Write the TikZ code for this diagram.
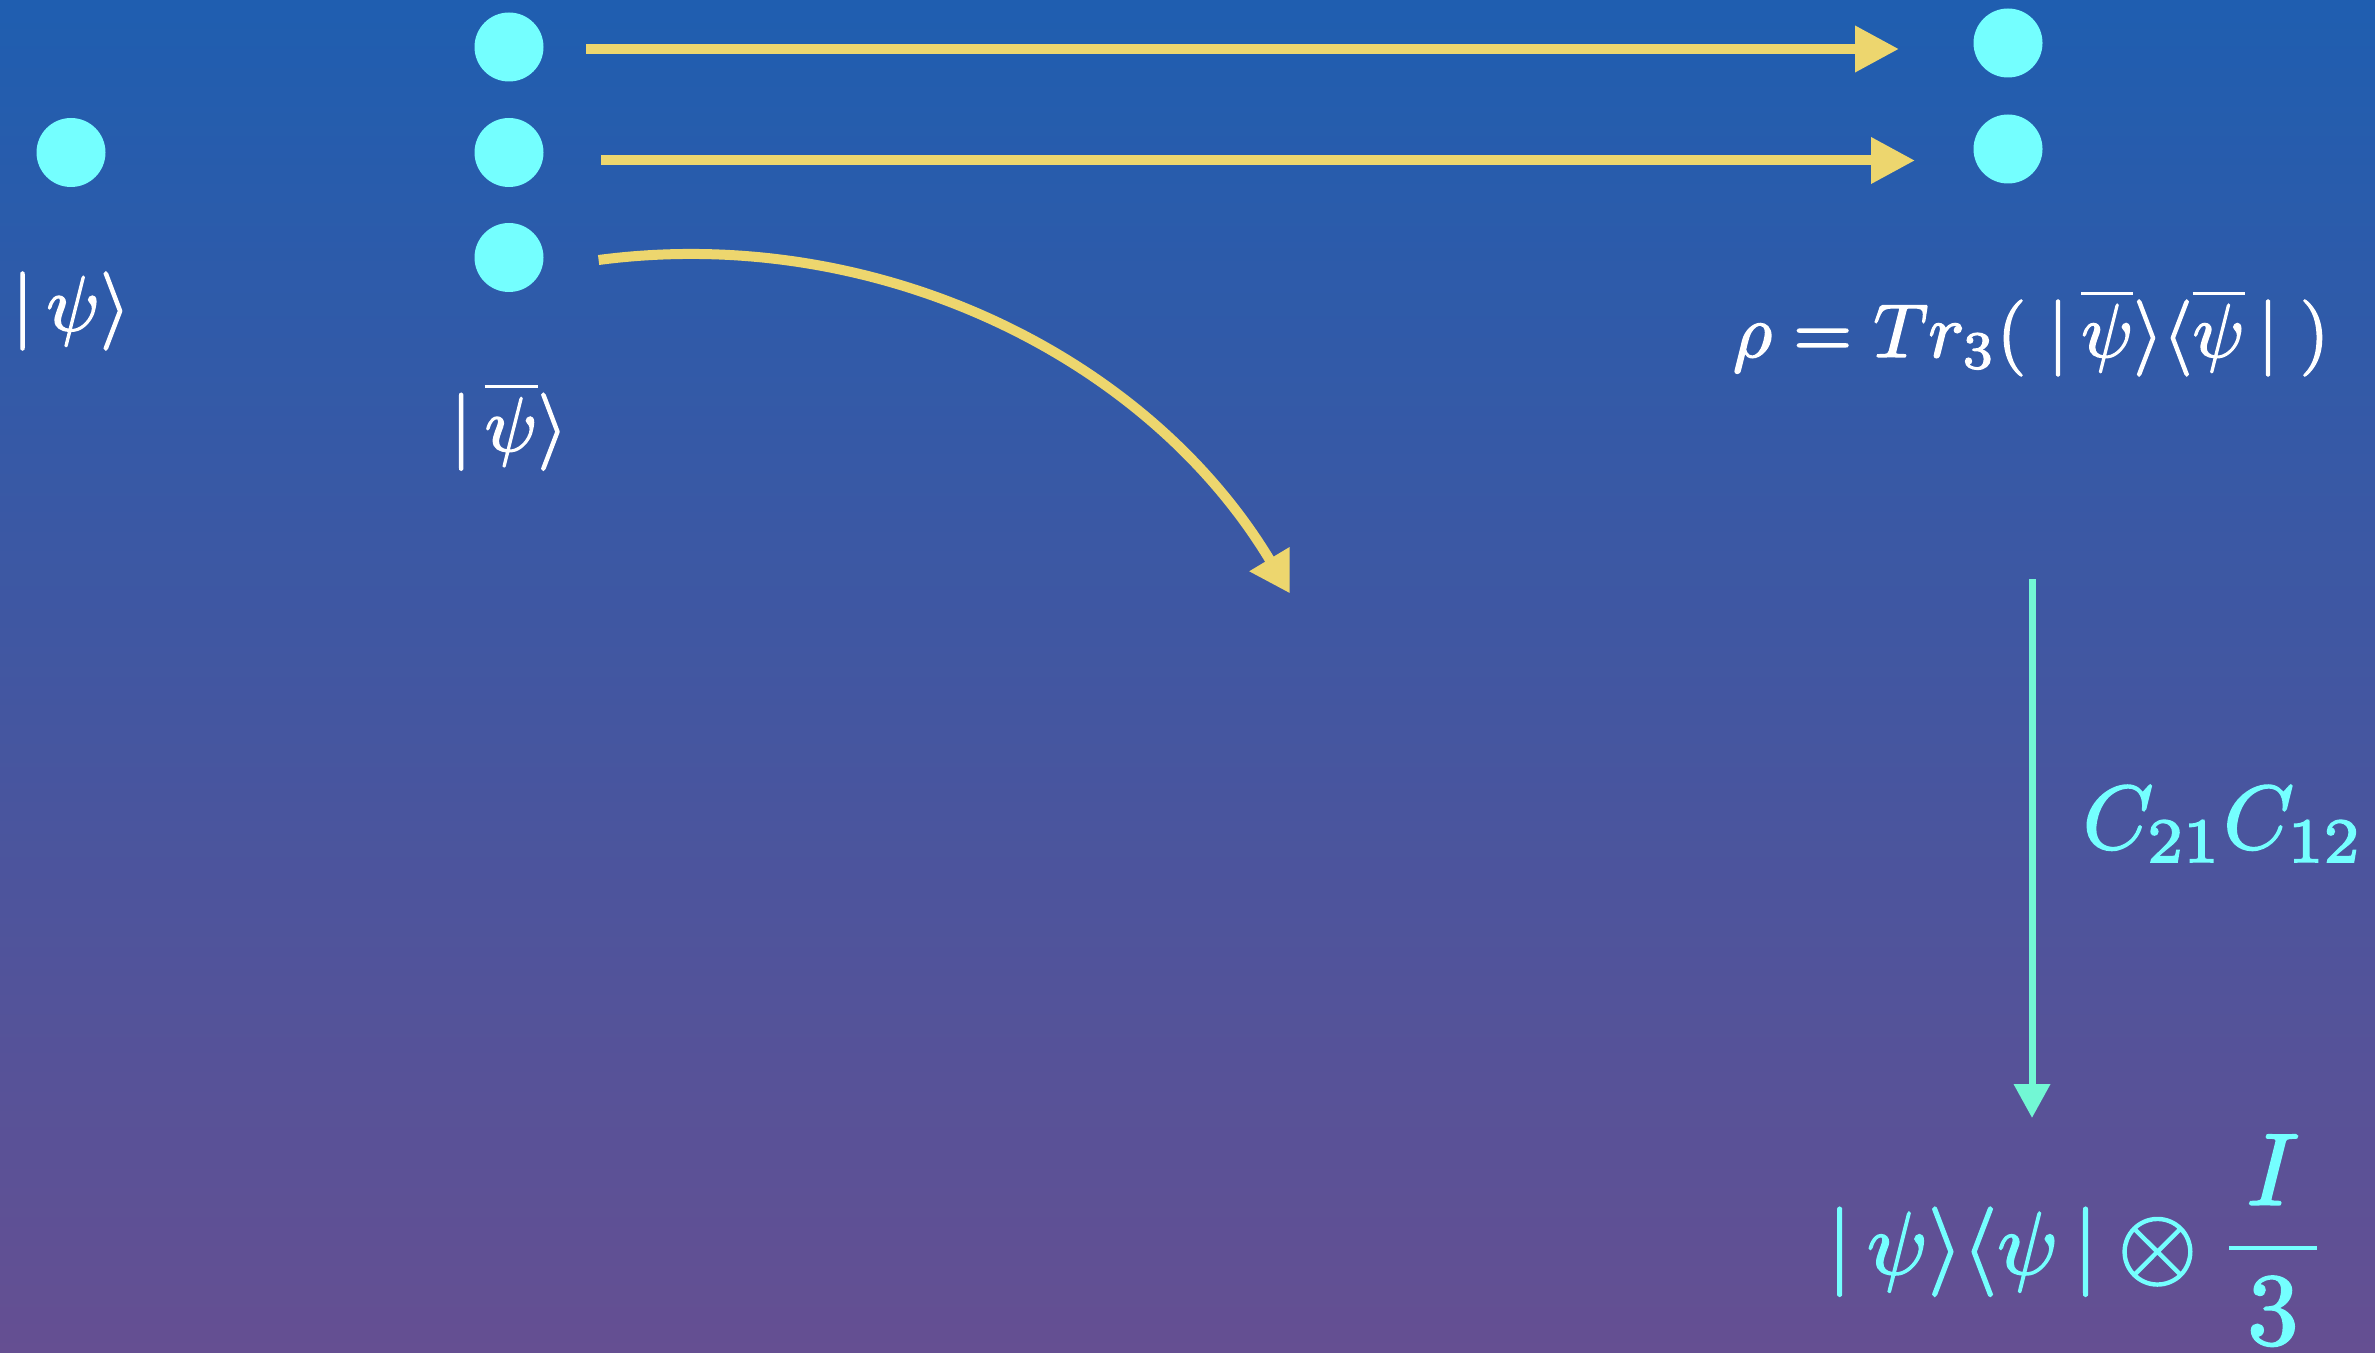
\documentclass[tikz,border=0pt]{standalone}
\usepackage{amsmath}
\usetikzlibrary{arrows.meta}
\definecolor{bgtop}{RGB}{31,94,176}
\definecolor{bgbot}{RGB}{101,79,146}
\definecolor{dotc}{RGB}{116,255,255}
\definecolor{yel}{RGB}{237,214,110}
\definecolor{aqua}{RGB}{114,247,212}
\definecolor{cyantext}{RGB}{116,255,255}
\newcommand{\heavytext}[1]{\special{pdf:literal direct 2 Tr 0.18 w}#1\special{pdf:literal direct 0 Tr}}
\begin{document}
\begin{tikzpicture}[x=0.25pt,y=0.25pt,
  dot/.style={circle,fill=dotc,minimum size=17.25pt,inner sep=0pt},
  yarrow/.style={draw=yel,line width=2.5pt,-{Triangle[length=11pt,width=11pt]}},
  carrow/.style={draw=yel,line width=2.5pt,-{Triangle[length=10pt,width=11pt]}},
  varrow/.style={draw=aqua,line width=1.75pt,-{Triangle[length=8.5pt,width=8.75pt]}},
  wtext/.style={text=white,inner sep=0pt},
  ctext/.style={text=cyantext,inner sep=0pt}]
\useasboundingbox (0,0) rectangle (2375,1352);
\shade[top color=bgtop,bottom color=bgbot] (0,0) rectangle (2375,1352);
% dots
\node[dot] (dL) at (71,1199.5) {};
\node[dot] (m1) at (509,1305) {};
\node[dot] (m2) at (509,1199.5) {};
\node[dot] (m3) at (509,1094.5) {};
\node[dot] (r1) at (2008,1309) {};
\node[dot] (r2) at (2008,1203) {};
% arrow end points
\coordinate (a1s) at (586,1303);
\coordinate (a1e) at (1899,1303);
\coordinate (a2s) at (601,1191.5);
\coordinate (a2e) at (1915,1191.5);
\coordinate (cs) at (598.6,1092);
\coordinate (vs) at (2032,773);
\coordinate (ve) at (2032,234);
\draw[yarrow] (a1s) -- (a1e);
\draw[yarrow] (a2s) -- (a2e);
\draw[carrow] (cs) arc[start angle=97.5,end angle=31,radius=700];
\draw[varrow] (vs) -- (ve);
% texts
\node[wtext,anchor=base] (psi) at (71,1021.5) {\scalebox{1.95}{\heavytext{$|\,\psi\rangle$}}};
\node[wtext,anchor=base] (psibar) at (509,901) {\scalebox{1.925}{\heavytext{$|\,\overline{\psi}\rangle$}}};
\node[wtext,anchor=base] (rho) at (2031,995) {\scalebox{1.9}{\heavytext{$\rho = Tr_3(\;|\,\overline{\psi}\rangle\langle\overline{\psi}\,|\;)$}}};
\node[ctext,anchor=base west] (cc) at (2082,503.5) {\scalebox{2.25}{\heavytext{$C_{21}C_{12}$}}};
\node[ctext,anchor=base] (res) at (2078,78) {\scalebox{2.225}{\heavytext{$|\,\psi\rangle\langle\psi\,|\mathbin{\vcenter{\hbox{\scalebox{1.15}{$\otimes$}}}}\scalebox{1.15}{$\dfrac{\,I\,}{\,3\,}$}$}}};
\end{tikzpicture}
\end{document}
